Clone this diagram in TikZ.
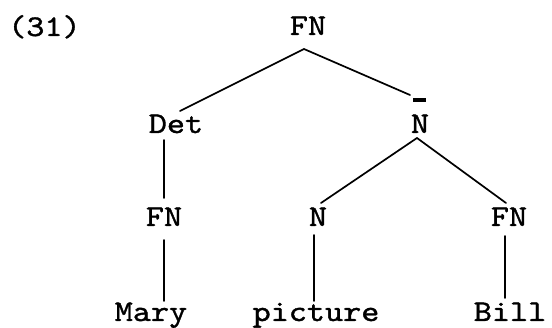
\documentclass[tikz,border=0pt]{standalone}
\usepackage{fontspec}
\setmonofont{lmmono10-regular}[Extension=.otf, FakeStretch=1.15, FakeBold=1.2]
\begin{document}
\begin{tikzpicture}[x=1pt, y=-1pt,
  lbl/.style={anchor=base, inner sep=0pt, font=\ttfamily\fontsize{30}{34}\selectfont},
  branch/.style={line width=1.7pt, line cap=round}]
\useasboundingbox (0,0) rectangle (552,328);

% example number
\node[lbl, anchor=base west] (num) at (8,36) {(31)};

% tree labels
\node[lbl] (root) at (308,35)  {FN};
\node[lbl] (det)  at (176,133) {Det};
\node[lbl] (nbar) at (420,133) {N};
\node[lbl] (fna)  at (164,226) {FN};
\node[lbl] (nn)   at (318,226) {N};
\node[lbl] (fnb)  at (509,226) {FN};
\node[lbl] (mary) at (151,321) {Mary};
\node[lbl] (pic)  at (316,321) {picture};
\node[lbl] (bill) at (510,321) {Bill};

% bar over the N
\draw[line width=3.5pt] ([xshift=-7pt,yshift=33pt]nbar.base) -- ([xshift=6pt,yshift=33pt]nbar.base);

% branches
\draw[branch] ([xshift=-4pt,yshift=-14pt]root.base) -- ([xshift=4pt,yshift=22pt]det.base);
\draw[branch] ([xshift=-4pt,yshift=-14pt]root.base) -- ([xshift=-10pt,yshift=38pt]nbar.base);
\draw[branch] ([xshift=-12pt,yshift=-7pt]det.base) -- ([yshift=28pt]fna.base);
\draw[branch] ([xshift=-3pt,yshift=-5pt]nbar.base) -- ([xshift=3pt,yshift=23pt]nn.base);
\draw[branch] ([xshift=-3pt,yshift=-5pt]nbar.base) -- ([xshift=-3pt,yshift=23pt]fnb.base);
\draw[branch] ([yshift=-14pt]fna.base) -- ([xshift=13pt,yshift=20pt]mary.base);
\draw[branch] ([xshift=-4pt,yshift=-9pt]nn.base) -- ([xshift=-2pt,yshift=20pt]pic.base);
\draw[branch] ([xshift=-4pt,yshift=-10pt]fnb.base) -- ([xshift=-5pt,yshift=23pt]bill.base);
\end{tikzpicture}
\end{document}
